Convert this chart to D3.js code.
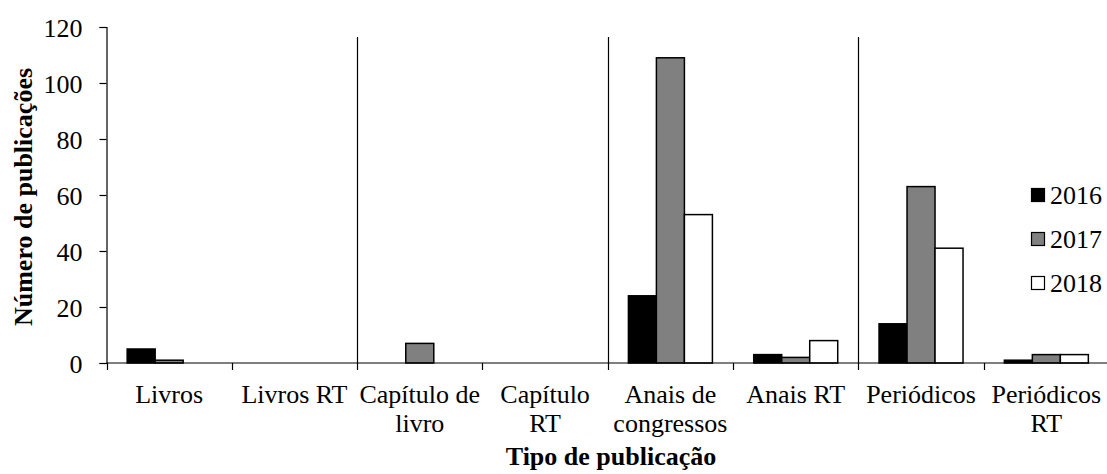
<!DOCTYPE html>
<html><head><meta charset="utf-8">
<script src="https://cdn.jsdelivr.net/npm/d3@7"></script>
<style>body{margin:0;background:#fff}svg{display:block}text{font-family:"Liberation Serif";fill:#000}</style>
</head><body>
<svg id="c" width="1107" height="474"></svg>
<script>
const categories = ["Livros","Livros RT","Capítulo de livro","Capítulo RT","Anais de congressos","Anais RT","Periódicos","Periódicos RT"];
const categoryLines = [["Livros"],["Livros RT"],["Capítulo de","livro"],["Capítulo","RT"],["Anais de","congressos"],["Anais RT"],["Periódicos"],["Periódicos","RT"]];
const years = ["2016","2017","2018"];
const v2016 = [5,0,0,0,24,3,14,1];
const v2017 = [1,0,7,0,109,2,63,3];
const v2018 = [0,0,0,0,53,8,41,3];
const yTicks = [0,20,40,60,80,100,120];
const separatorCats = ["Livros RT","Capítulo RT","Anais RT"];
const yTitle = "Número de publicações";
const xTitle = "Tipo de publicação";
const fills = ["#000000","#808080","#ffffff"];

const series = [v2016, v2017, v2018];
const svg = d3.select("#c");
const mLeft = 106.5, mRight = 1109, mTop = 27, mBottom = 363;
const x = d3.scaleBand().domain(categories).range([mLeft, mRight]).padding(0);
const x1 = d3.scaleBand().domain(years).range([0, 84]).padding(0);
const y = d3.scaleLinear().domain([0,120]).range([mBottom, mTop]);
const fs = 26;
const ff = '"Liberation Serif"';

// separators
svg.append("g").selectAll("line").data(separatorCats).join("line")
  .attr("x1", d => Math.round(x(d)+x.bandwidth())+0.5).attr("x2", d => Math.round(x(d)+x.bandwidth())+0.5)
  .attr("y1", 37).attr("y2", mBottom).attr("stroke","#000").attr("stroke-width",1.2);

// bars
const groups = svg.append("g").selectAll("g").data(categories).join("g")
  .attr("transform", d => `translate(${x(d) + (x.bandwidth()-84)/2},0)`);
groups.selectAll("rect").data((d,i) => years.map((yr,j) => ({yr, v: series[j][i], j})).filter(o => o.v > 0)).join("rect")
  .attr("x", d => x1(d.yr)).attr("width", x1.bandwidth())
  .attr("y", d => y(d.v)).attr("height", d => y(0)-y(d.v))
  .attr("fill", d => fills[d.j]).attr("stroke","#000").attr("stroke-width",1.5);

// y axis
const ya = svg.append("g").attr("transform",`translate(${mLeft},0)`)
  .call(d3.axisLeft(y).tickValues(yTicks).tickSize(7).tickPadding(17));
ya.attr("font-family", "Liberation Serif");
ya.select(".domain").attr("stroke","#000").attr("stroke-width",1.2);
ya.selectAll(".tick line").attr("stroke","#000").attr("stroke-width",1.2);
ya.selectAll("text").style("font-size", fs+"px").style("font-family",ff).attr("dy","0.35em");

// x axis
const xa = svg.append("g").attr("transform",`translate(0,${mBottom})`);
xa.append("line").attr("x1", mLeft).attr("x2", 1107).attr("y1",0).attr("y2",0).attr("stroke","#000").attr("stroke-width",1.2);
xa.selectAll("line.tk").data(categories).join("line").attr("class","tk")
  .attr("x1", d => Math.round(x(d))+0.5).attr("x2", d => Math.round(x(d))+0.5)
  .attr("y1",0).attr("y2",7).attr("stroke","#000").attr("stroke-width",1.2);
const lbl = xa.selectAll("text.cl").data(categories).join("text").attr("class","cl")
  .attr("text-anchor","middle").style("font-size", fs+"px").style("font-family",ff);
lbl.each(function(d,i){
  const t = d3.select(this);
  categoryLines[i].forEach((ln,k) => t.append("tspan").attr("x", x(d)+x.bandwidth()/2).attr("y", 40 + k*29).text(ln));
});

// titles
svg.append("text").attr("x", 611).attr("y", 465).attr("text-anchor","middle")
  .style("font-size", fs+"px").style("font-family",ff).style("font-weight","bold").text(xTitle);
svg.append("text").attr("transform","translate(32,197) rotate(-90)").attr("text-anchor","middle")
  .style("font-size", fs+"px").style("font-family",ff).style("font-weight","bold").text(yTitle);

// legend
const lg = svg.append("g").selectAll("g").data(years).join("g")
  .attr("transform",(d,i)=>`translate(1031,${195 + i*44})`);
lg.append("rect").attr("x",0.5).attr("y",-6.5).attr("width",13).attr("height",13)
  .attr("fill",(d,i)=>fills[i]).attr("stroke","#000").attr("stroke-width",1.2);
lg.append("text").attr("x",19).attr("y",0).attr("dy","0.35em").style("font-size",fs+"px").style("font-family",ff).text(d=>d);
</script>
</body></html>
